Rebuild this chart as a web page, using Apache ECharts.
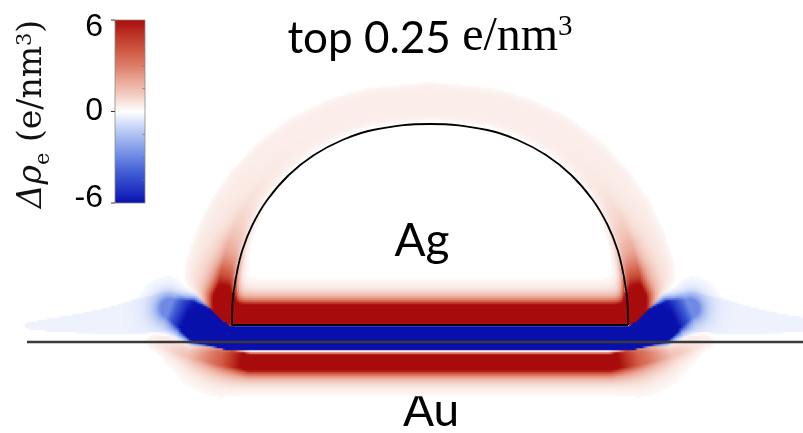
<!DOCTYPE html>
<html>
<head>
<meta charset="utf-8">
<script src="https://cdn.jsdelivr.net/npm/echarts@6/dist/echarts.min.js"></script>
<style>
  html, body { margin: 0; padding: 0; background: #fff; }
  #chart { width: 803px; height: 433px; }
</style>
</head>
<body>
<div id="chart"></div>
<script>
// Charge-density difference Δρe (e/nm³) around an Ag half-dome sitting on Au.
// x: lateral position (nm), z: height (nm); z = 0 is the Ag base plane.

// Ag particle outline: half-width (nm) at each height (nm), base to apex
const domeZ     = [0, 0.625, 1.25, 1.875, 2.5, 3.125, 3.75, 4.25, 4.625, 4.875, 5.025];
const domeHalfW = [4.95, 4.93, 4.84, 4.69, 4.44, 4.07, 3.53, 2.90, 2.19, 1.43, 0];

// Au surface plane and its lateral extent (nm)
const auSurfaceZ = -0.425;
const auSurfaceX = [-10.075, 9.325];

// Charge layers, nodes from the axis outward (mirrored about x = 0):
// [x, z, half-thickness, Δρ (e/nm³), decay above, decay below]   (lengths in nm)
const agLayer = [
  [0.0,   0.275, 0.225,  6.6, 0.17, 0.015],
  [4.9,   0.275, 0.225,  6.6, 0.17, 0.015]
];
const interfaceLayer = [
  [0.0,  -0.3125, 0.28, -9.0, 0.02, 0.025],
  [5.1,  -0.3125, 0.28, -9.0, 0.02, 0.025],
  [5.7,   0.0,    0.44, -9.0, 0.04, 0.08],
  [6.05,  0.24,   0.38, -6.5, 0.12, 0.14],
  [6.5,   0.42,   0.24, -2.6, 0.20, 0.20]
];
const auLayer = [
  [0.0,  -0.92,  0.19, 7.0,  0.04, 0.17],
  [4.5,  -0.92,  0.19, 7.0,  0.04, 0.17],
  [5.2,  -0.80,  0.20, 3.8,  0.06, 0.25],
  [6.0,  -0.575, 0.22, 1.4,  0.10, 0.28],
  [6.875,-0.375, 0.12, 0.45, 0.06, 0.14]
];
const tailLayer = [
  [6.5,   0.35,  0.48, -0.3, 0.02, 0.02],
  [7.25,  0.22,  0.42, -0.3, 0.02, 0.02],
  [8.0,   0.11,  0.32, -0.3, 0.02, 0.02],
  [8.75,  0.04,  0.23, -0.3, 0.02, 0.02],
  [9.5,   0.0,   0.15, -0.3, 0.02, 0.02],
  [10.075,-0.02, 0.06, -0.3, 0.02, 0.02]
];

// Shell of excess charge around the dome
const shellLevel = 0.38;            // e/nm³ over the cap
const shellInner = 0.1;             // nm from the surface
const shellOuter = [1.05, 1.35];    // nm thickness at apex, at base
// Accumulation at the dome foot
const footPeak = 21.7, footCap = 8, footDecay = 0.7;  // e/nm³, e/nm³, nm of arc
const footCore = 0.4, footFade = 0.22, footInside = 0.08;

// Colour scale and colour-bar ticks
const rangeMin = -6, rangeMax = 6;
const palette = ['#0a10ac', '#2438c4', '#3f5cd4', '#6a86e4', '#97aeee', '#c8d5f7', '#ffffff',
                 '#f4d0c6', '#eaa898', '#dd7c68', '#cf5843', '#bc3424', '#a80c0c'];
const barTicks = [6, 0, -6];

// Sampling grid (nm)
const cell = 0.05, nx = 392, nz = 170, x0 = -10.25, z0 = -2.0;

// ---------- density model ----------
function layerValue(ax, z, nodes) {
  let bd = Infinity, bk = 0, bt = 0, bc = 0;
  for (let k = 0; k < nodes.length - 1; k++) {
    const a = nodes[k], b = nodes[k + 1];
    const dx = b[0] - a[0], dz = b[1] - a[1];
    const l2 = dx * dx + dz * dz;
    let t = ((ax - a[0]) * dx + (z - a[1]) * dz) / l2;
    t = Math.max(0, Math.min(1, t));
    const px = a[0] + t * dx, pz = a[1] + t * dz;
    const d = Math.hypot(ax - px, z - pz);
    if (d < bd) { bd = d; bk = k; bt = t; bc = dx * (z - a[1]) - dz * (ax - a[0]); }
  }
  const a = nodes[bk], b = nodes[bk + 1];
  const lerp = i => a[i] + (b[i] - a[i]) * bt;
  const e = bd - lerp(2);
  const amp = lerp(3);
  if (e <= 0) return amp;
  return amp * Math.exp(-e / (bc >= 0 ? lerp(4) : lerp(5)));
}

const arcLen = [0];
for (let k = 1; k < domeZ.length; k++) {
  arcLen.push(arcLen[k - 1] + Math.hypot(domeHalfW[k] - domeHalfW[k - 1], domeZ[k] - domeZ[k - 1]));
}
const domeTop = domeZ[domeZ.length - 1];

function halfWidthAt(z) {
  for (let k = 0; k < domeZ.length - 1; k++) {
    if (z <= domeZ[k + 1]) {
      const t = (z - domeZ[k]) / (domeZ[k + 1] - domeZ[k]);
      return domeHalfW[k] + t * (domeHalfW[k + 1] - domeHalfW[k]);
    }
  }
  return 0;
}

function domeDistance(ax, z) {
  let bd = Infinity, s = 0, zc = 0;
  for (let k = 0; k < domeZ.length - 1; k++) {
    const x1 = domeHalfW[k], z1 = domeZ[k];
    const dx = domeHalfW[k + 1] - x1, dz = domeZ[k + 1] - z1;
    const l2 = dx * dx + dz * dz;
    let t = ((ax - x1) * dx + (z - z1) * dz) / l2;
    t = Math.max(0, Math.min(1, t));
    const px = x1 + t * dx, pz = z1 + t * dz;
    const d = Math.hypot(ax - px, z - pz);
    if (d < bd) { bd = d; s = arcLen[k] + t * Math.sqrt(l2); zc = pz; }
  }
  const inside = z >= 0 && z <= domeTop && ax < halfWidthAt(z);
  return { d: inside ? -bd : bd, s: s, zc: zc };
}

function density(x, z) {
  const ax = Math.abs(x);
  let pos = 0, neg = 0;
  const add = v => { if (v > 0) pos += v; else neg += v; };
  add(layerValue(ax, z, agLayer));
  add(layerValue(ax, z, interfaceLayer));
  add(layerValue(ax, z, auLayer));
  add(layerValue(ax, z, tailLayer));

  if (z > -0.3) {
    const g = domeDistance(ax, z);
    const zf = z >= 0 ? 1 : Math.exp(z / 0.05);
    const amp = Math.min(footCap, footPeak * Math.exp(-g.s / footDecay));
    let prof;
    if (g.d >= 0) {
      prof = (g.d < footCore ? 1 : Math.exp(-(g.d - footCore) / footFade))
             * (1 - Math.exp(-g.d / 0.04));
    } else {
      prof = Math.exp(g.d / footInside);
    }
    pos += amp * prof * zf;
    if (g.d > 0 && z >= 0) {
      const f = g.zc / domeTop;
      const outer = shellOuter[1] + (shellOuter[0] - shellOuter[1]) * f;
      const c = (shellInner + outer) / 2, h = (outer - shellInner) / 2;
      pos += shellLevel * Math.exp(-Math.pow(Math.abs((g.d - c) / h), 6));
    }
  }
  const m = Math.min(pos, -neg);
  const k = 1 / (1 + Math.pow(m / 1.5, 2));
  return pos >= -neg ? pos + k * neg : neg + k * pos;
}

const xCats = [], zCats = [], cells = [];
for (let i = 0; i < nx; i++) xCats.push((x0 + i * cell).toFixed(3));
for (let j = 0; j < nz; j++) zCats.push((z0 + j * cell).toFixed(3));
for (let i = 0; i < nx; i++) {
  for (let j = 0; j < nz; j++) {
    const v = density(x0 + i * cell, z0 + j * cell);
    if (Math.abs(v) >= 0.15) cells.push([i, j, +v.toFixed(3)]);
  }
}

// Dome outline as a path over the apex, plus its flat base
const domeArc = [];
for (let k = 0; k < domeZ.length; k++) domeArc.push([-domeHalfW[k], domeZ[k]]);
for (let k = domeZ.length - 2; k >= 0; k--) domeArc.push([domeHalfW[k], domeZ[k]]);
const domeBase = [[-domeHalfW[0], 0], [domeHalfW[0], 0]];
const auLine = [[auSurfaceX[0], auSurfaceZ], [auSurfaceX[1], auSurfaceZ]];

// ---------- chart ----------
const chart = echarts.init(document.getElementById('chart'), null, { renderer: 'canvas' });
const gridBox = { left: 19, top: 66, width: 784, height: 340 };
const xMin = x0 - cell / 2, xMax = x0 + (nx - 0.5) * cell;
const zMin = z0 - cell / 2, zMax = z0 + (nz - 0.5) * cell;

const barX = 115, barY = 20, barW = 30, barH = 183;
const barY0 = v => barY + (rangeMax - v) / (rangeMax - rangeMin) * barH;
const stops = palette.slice().reverse().map((c, i, arr) => ({ offset: i / (arr.length - 1), color: c }));

const graphics = [
  { type: 'rect', shape: { x: barX, y: barY, width: barW, height: barH },
    style: { fill: new echarts.graphic.LinearGradient(0, 0, 0, 1, stops), stroke: '#8a8a8a', lineWidth: 0.8 } }
];
barTicks.forEach(v => {
  const y = barY0(v);
  graphics.push({ type: 'line', shape: { x1: barX - 4, y1: y, x2: barX, y2: y },
                  style: { stroke: '#333', lineWidth: 1 } });
  const nudge = v === rangeMax ? 7 : (v === rangeMin ? -5 : 0);
  graphics.push({ type: 'text', x: 103, y: y + nudge,
                  style: { text: String(v), font: '32px "Liberation Sans", Arial, sans-serif',
                           fill: '#000', align: 'right', verticalAlign: 'middle' } });
});
[4.5, 3, 1.5, -1.5, -3, -4.5].forEach(v => {
  const y = barY0(v);
  graphics.push({ type: 'line', shape: { x1: barX + barW - 3, y1: y, x2: barX + barW, y2: y },
                  style: { stroke: '#777', lineWidth: 0.7 } });
});
graphics.push({
  type: 'text', x: 35, y: 114, rotation: Math.PI / 2,
  style: {
    text: '{g|Δρ}{s|e}{t| (e/nm}{p|3}{t|)}',
    align: 'center', verticalAlign: 'middle', fill: '#111',
    rich: {
      g: { fontFamily: 'DejaVu Serif', fontStyle: 'italic', fontSize: 33, verticalAlign: 'bottom', padding: [0, 0, 6, 0] },
      s: { fontFamily: 'DejaVu Serif', fontSize: 21, verticalAlign: 'bottom' },
      t: { fontFamily: 'DejaVu Serif', fontSize: 33, verticalAlign: 'bottom', padding: [0, 0, 6, 0] },
      p: { fontFamily: 'DejaVu Serif', fontSize: 21, verticalAlign: 'top' }
    }
  }
});
graphics.push({
  type: 'text', x: 430, y: 37,
  style: {
    text: '{a|top 0.25 }{b|e/nm}{c|3}',
    align: 'center', verticalAlign: 'middle', fill: '#000',
    rich: {
      a: { fontFamily: 'Lato', fontSize: 44, verticalAlign: 'bottom' },
      b: { fontFamily: 'Liberation Serif', fontSize: 48, verticalAlign: 'bottom' },
      c: { fontFamily: 'Liberation Serif', fontSize: 29, verticalAlign: 'top' }
    }
  }
});
graphics.push({ type: 'text', x: 422, y: 241,
  style: { text: 'Ag', font: '46px Lato', fill: '#000', align: 'center', verticalAlign: 'middle' } });
graphics.push({ type: 'text', x: 431, y: 411,
  style: { text: 'Au', font: '46px Lato', fill: '#000', align: 'center', verticalAlign: 'middle' } });

chart.setOption({
  animation: false,
  backgroundColor: '#ffffff',
  grid: [Object.assign({}, gridBox), Object.assign({}, gridBox)],
  xAxis: [
    { type: 'category', data: xCats, gridIndex: 0, show: false },
    { type: 'value', gridIndex: 1, min: xMin, max: xMax, show: false }
  ],
  yAxis: [
    { type: 'category', data: zCats, gridIndex: 0, show: false },
    { type: 'value', gridIndex: 1, min: zMin, max: zMax, show: false }
  ],
  visualMap: {
    show: false, type: 'continuous', min: rangeMin, max: rangeMax,
    seriesIndex: 0, dimension: 2, inRange: { color: palette }
  },
  series: [
    { type: 'heatmap', xAxisIndex: 0, yAxisIndex: 0, data: cells,
      progressive: 0, silent: true, itemStyle: { borderWidth: 0 }, emphasis: { disabled: true } },
    { type: 'line', xAxisIndex: 1, yAxisIndex: 1, data: domeArc, smooth: 0.4,
      symbol: 'none', silent: true, lineStyle: { color: '#000', width: 1.8 } },
    { type: 'line', xAxisIndex: 1, yAxisIndex: 1, data: domeBase,
      symbol: 'none', silent: true, lineStyle: { color: '#000', width: 1.8 } },
    { type: 'line', xAxisIndex: 1, yAxisIndex: 1, data: auLine,
      symbol: 'none', silent: true, lineStyle: { color: '#3a3a3a', width: 2.5 } }
  ],
  graphic: graphics
});
</script>
</body>
</html>
